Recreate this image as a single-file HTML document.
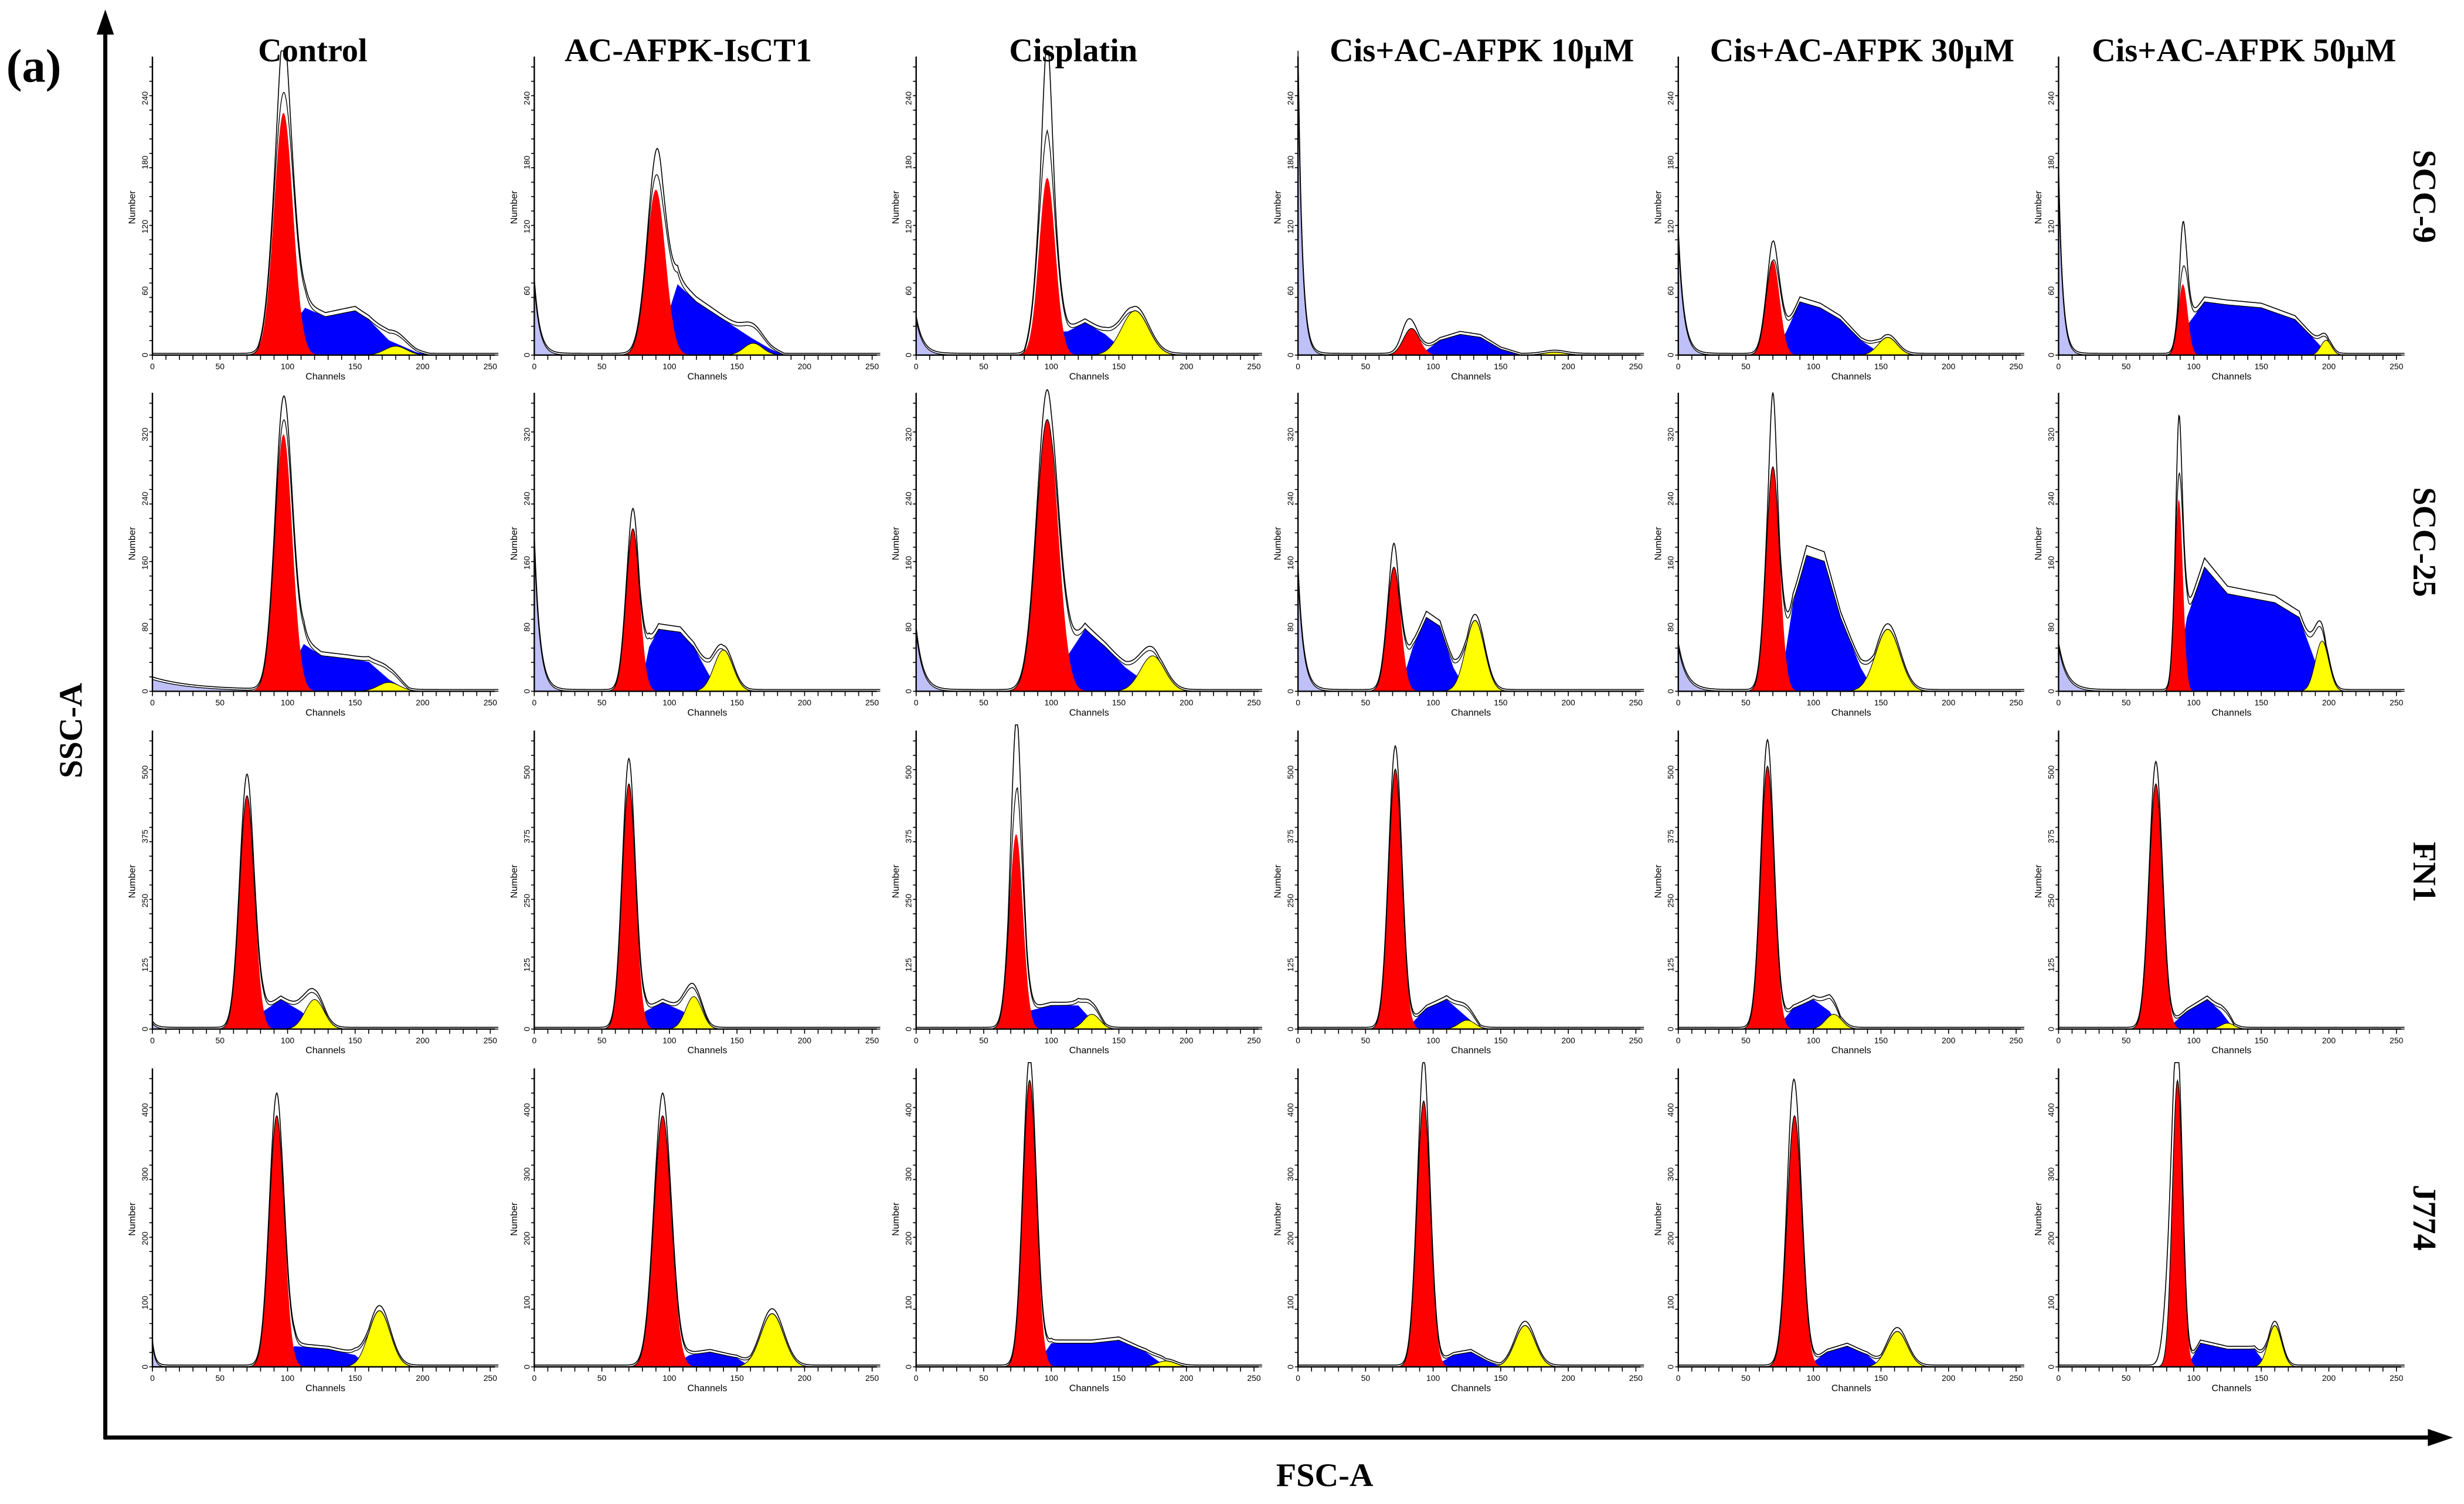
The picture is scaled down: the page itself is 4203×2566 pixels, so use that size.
<!DOCTYPE html>
<html><head><meta charset="utf-8">
<style>
html,body{margin:0;padding:0;background:#fff;}
svg{display:block;}
.t{font-family:"Liberation Serif",serif;font-weight:bold;fill:#000;}
.s{font-family:"Liberation Sans",sans-serif;fill:#000;}
</style></head>
<body>
<svg id="fig" xmlns="http://www.w3.org/2000/svg" width="4203" height="2566" viewBox="0 0 1568 957.3" preserveAspectRatio="none">
<rect x="0" y="0" width="1568" height="957.3" fill="#fff"/>
<text class="t" x="4" y="52" font-size="30">(a)</text>
<line x1="67" y1="18" x2="67" y2="916" stroke="#000" stroke-width="2.6"/>
<polygon points="61.5,22 72.5,22 67,6" fill="#000"/>
<line x1="66" y1="915" x2="1548" y2="915" stroke="#000" stroke-width="2.6"/>
<polygon points="1545,909.5 1545,920.5 1561,915" fill="#000"/>
<text class="t" font-size="21" text-anchor="middle" transform="translate(52,465) rotate(-90)">SSC-A</text>
<text class="t" font-size="21" text-anchor="middle" x="843" y="946">FSC-A</text>
<g id="panels"></g>
</svg>
<script>
// ---- data ----
const columns = ["Control","AC-AFPK-IsCT1","Cisplatin","Cis+AC-AFPK 10\u00b5M","Cis+AC-AFPK 30\u00b5M","Cis+AC-AFPK 50\u00b5M"];
const rows = ["SCC-9","SCC-25","FN1","J774"];
const xTicks = [0,50,100,150,200,250];
// G1 peak: [channel, height %, sd]
const g1 = [
 [[97,82,7],[90,56,7],[97,60,6],[84,9,6],[70,32,5],[92,24,3.5]],
 [[97,87,6.5],[73,55,5],[97,92,8],[71,42,5],[70,76,5],[89,65,3]],
 [[70,79,5.5],[70,83,5],[74,66,5],[72,88,5],[66,89,5],[72,83,5]],
 [[92,85,5.5],[95,85,6.5],[84,97,5],[93,90,5],[86,85,5.5],[88,97,3.8]]
];
// G2 peak: [channel, height %, sd]
const g2 = [
 [[180,3,8],[162,4,7],[162,15,10],[190,1,8],[155,6,7],[198,5,4]],
 [[175,3,8],[140,14,7],[175,12,9],[131,24,7],[155,21,9],[195,17,5]],
 [[120,10,7],[118,11,6],[130,5,6],[125,3,6],[115,5,6],[125,2,5]],
 [[168,19,8],[176,18,8.5],[185,2,7],[168,14,7.5],[162,12,7.5],[160,14,5]]
];
// S phase profile: [channel, height %]
const sPhase = [
 [[[78,0],[100,8],[113,16],[128,13],[150,15],[160,12],[175,5],[195,1],[205,0]],
  [[82,0],[95,8],[106,24],[120,18],[140,12],[160,6],[175,2],[185,0]],
  [[80,0],[92,10],[97,16],[103,8],[112,8],[125,11],[140,7],[150,3],[160,0]],
  [[90,0],[105,5],[120,7],[135,6],[150,2],[165,0]],
  [[70,0],[80,8],[90,18],[105,16],[120,12],[135,5],[145,2],[150,0]],
  [[88,0],[95,10],[108,18],[125,17],[150,16],[175,12],[190,5],[200,0]]],
 [[[90,0],[105,10],[112,16],[125,12],[145,11],[160,10],[175,4],[190,0]],
  [[78,0],[85,15],[92,21],[108,20],[118,15],[130,5],[140,0]],
  [[100,0],[112,12],[125,21],[140,15],[155,8],[170,3],[180,0]],
  [[75,0],[85,15],[95,25],[105,22],[115,8],[125,0]],
  [[75,0],[85,30],[95,46],[108,44],[120,25],[135,8],[145,0]],
  [[86,0],[95,25],[108,42],[125,33],[160,30],[178,25],[190,10],[198,0]]],
 [[[75,0],[82,6],[95,10],[110,6],[120,2],[130,0]],
  [[75,0],[82,6],[95,9],[110,6],[120,2],[130,0]],
  [[68,0],[75,17],[82,6],[100,8],[120,8],[130,3],[140,0]],
  [[80,0],[95,7],[110,10],[125,4],[135,0]],
  [[72,0],[85,7],[100,10],[112,6],[120,0]],
  [[80,0],[95,6],[110,10],[120,6],[130,0]]],
 [[[95,0],[105,7],[130,6],[150,4],[160,0]],
  [[100,0],[115,4],[130,5],[150,3],[160,0]],
  [[88,0],[100,8],[130,8],[150,9],[170,5],[185,0]],
  [[100,0],[115,4],[128,5],[140,2],[150,0]],
  [[95,0],[110,5],[125,7],[140,4],[150,0]],
  [[95,0],[105,8],[125,6],[145,6],[155,0]]]
];
// debris: [height %, decay channels]
const debris = [
 [[0,3],[24,4],[12,5],[100,3],[40,4],[60,3]],
 [[4,30],[50,4],[20,5],[40,4],[15,6],[15,6]],
 [[2,3],[0,3],[0,3],[0,3],[0,3],[0,3]],
 [[8,2],[0,3],[0,3],[0,3],[0,3],[0,3]]
];
// raw data excess over fit at G1: [channel, extra %, sd]
const extra = [
 [[97,15,3],[92,5,3],[97,26,3],[80,3,4],[70,4,2],[92,13,2]],
 [[97,2,3],[73,3,2],[97,4,3],[71,5,2],[70,20,2],[89,15,1.5]],
 [[70,2,2],[70,3,2],[74,19,3],[72,2,2],[66,3,2],[72,2,2]],
 [[92,2,2],[95,2,2],[84,2,2],[93,9,2],[84,8,3],[82,25,4]]
];
// y tick max labels per row
const yMax = [240,320,500,400];

// ---- layout ----
const colX = [97,340,583,826,1068,1310];
const rowBase = [226,440,655,870];
const plotH = 188, pxPerCh = 215/250;
const titleX = [199,438,683,943,1185,1428];
const rowLabelY = [125,345,555,775];

const NS = "http://www.w3.org/2000/svg";
const root = document.getElementById('panels');
function mk(tag, attrs, parent){const e=document.createElementNS(NS,tag);for(const k in attrs)e.setAttribute(k,attrs[k]);(parent||root).appendChild(e);return e;}
function gauss(x,p){return p[1]*Math.exp(-0.5*Math.pow((x-p[0])/p[2],2));}
function interp(x,pts){if(x<=pts[0][0]||x>=pts[pts.length-1][0])return 0;for(let i=1;i<pts.length;i++){if(x<=pts[i][0]){const a=pts[i-1],b=pts[i];return a[1]+(b[1]-a[1])*(x-a[0])/(b[0]-a[0]);}}return 0;}
function deb(x,d){if(d[0]<=0)return 0;return d[0]*Math.exp(-x/d[1]);}

columns.forEach((c,ci)=>{
  const t=mk('text',{class:'t','font-size':'21','text-anchor':'middle',x:titleX[ci],y:39});
  
  
  t.textContent=c;
});
rows.forEach((r,ri)=>{
  const t=mk('text',{class:'t','font-size':'21','text-anchor':'middle',transform:'translate(1536,'+rowLabelY[ri]+') rotate(90)'});
  
  
  t.textContent=r;
});

for(let ri=0;ri<4;ri++){
 for(let ci=0;ci<6;ci++){
  const x0=colX[ci], b=rowBase[ri];
  const g=mk('g',{});
  
  
  const X=ch=>x0+ch*pxPerCh, Y=v=>b-v/100*plotH;
  const P=g1[ri][ci],Q=g2[ri][ci],S=sPhase[ri][ci],D=debris[ri][ci],E=extra[ri][ci];
  const chs=[];for(let k=0;k<=512;k++)chs.push(k*0.5);
  function area(f){let d='M'+X(0)+','+b;chs.forEach(ch=>{d+=' L'+X(ch).toFixed(2)+','+Y(Math.min(f(ch),103)).toFixed(2);});d+=' L'+X(256)+','+b+'Z';return d;}
  const pd=mk('path',{d:area(x=>deb(x,D)),fill:'#c0c0f8'},g);
  
  
  const ps=mk('path',{d:area(x=>interp(x,S)),fill:'#0000ff'},g);
  
  
  const py=mk('path',{d:area(x=>gauss(x,Q)),fill:'#ffff00',stroke:'#000','stroke-width':0.4},g);
  
  
  const pr=mk('path',{d:area(x=>gauss(x,P)),fill:'#ff0000'},g);
  
  
  const fit=x=>deb(x,D)+interp(x,S)+gauss(x,P)+gauss(x,Q);
  let d1='',d2='';
  chs.forEach((ch,k)=>{d1+=(k?' L':'M')+X(ch).toFixed(2)+','+Y(Math.min(fit(ch),103)).toFixed(2);
    d2+=(k?' L':'M')+X(ch).toFixed(2)+','+Y(Math.min(fit(ch)*1.06+gauss(ch,E)+0.6,103)).toFixed(2);});
  const l1=mk('path',{d:d1,fill:'none',stroke:'#000','stroke-width':0.5},g);
  
  
  const l2=mk('path',{d:d2,fill:'none',stroke:'#000','stroke-width':0.6},g);
  
  
  const ax=mk('path',{d:'M'+x0+','+(b-plotH-2)+' L'+x0+','+b+' L'+(x0+218)+','+b,fill:'none',stroke:'#000','stroke-width':0.9},g);
  
  
  let tk='';
  for(let ch=0;ch<=250;ch+=10)tk+='M'+X(ch)+','+b+' l0,3 ';
  for(let k=0;k<=20;k++)tk+='M'+x0+','+(b-k*plotH/20.5)+' l-2,0 ';
  mk('path',{d:tk,stroke:'#000','stroke-width':0.6,fill:'none'},g);
  xTicks.forEach(v=>{
    const t=mk('text',{class:'s','font-size':'5.2','text-anchor':'middle',x:X(v),y:b+9},g);
    
    
    t.textContent=v;
  });
  for(let k=0;k<=4;k++){
    const t=mk('text',{class:'s','font-size':'5.2','text-anchor':'middle',transform:'translate('+(x0-3)+','+(b-k*plotH/4.6)+') rotate(-90)'},g);
    
    
    t.textContent=Math.round(yMax[ri]*k/4);
  }
  const cl=mk('text',{class:'s','font-size':'6','text-anchor':'middle',x:X(128),y:b+15.5},g);
  
  
  cl.textContent='Channels';
  const nl=mk('text',{class:'s','font-size':'6','text-anchor':'middle',transform:'translate('+(x0-11)+','+(b-plotH/2)+') rotate(-90)'},g);
  
  
  nl.textContent='Number';
 }
}
</script>
</body></html>
